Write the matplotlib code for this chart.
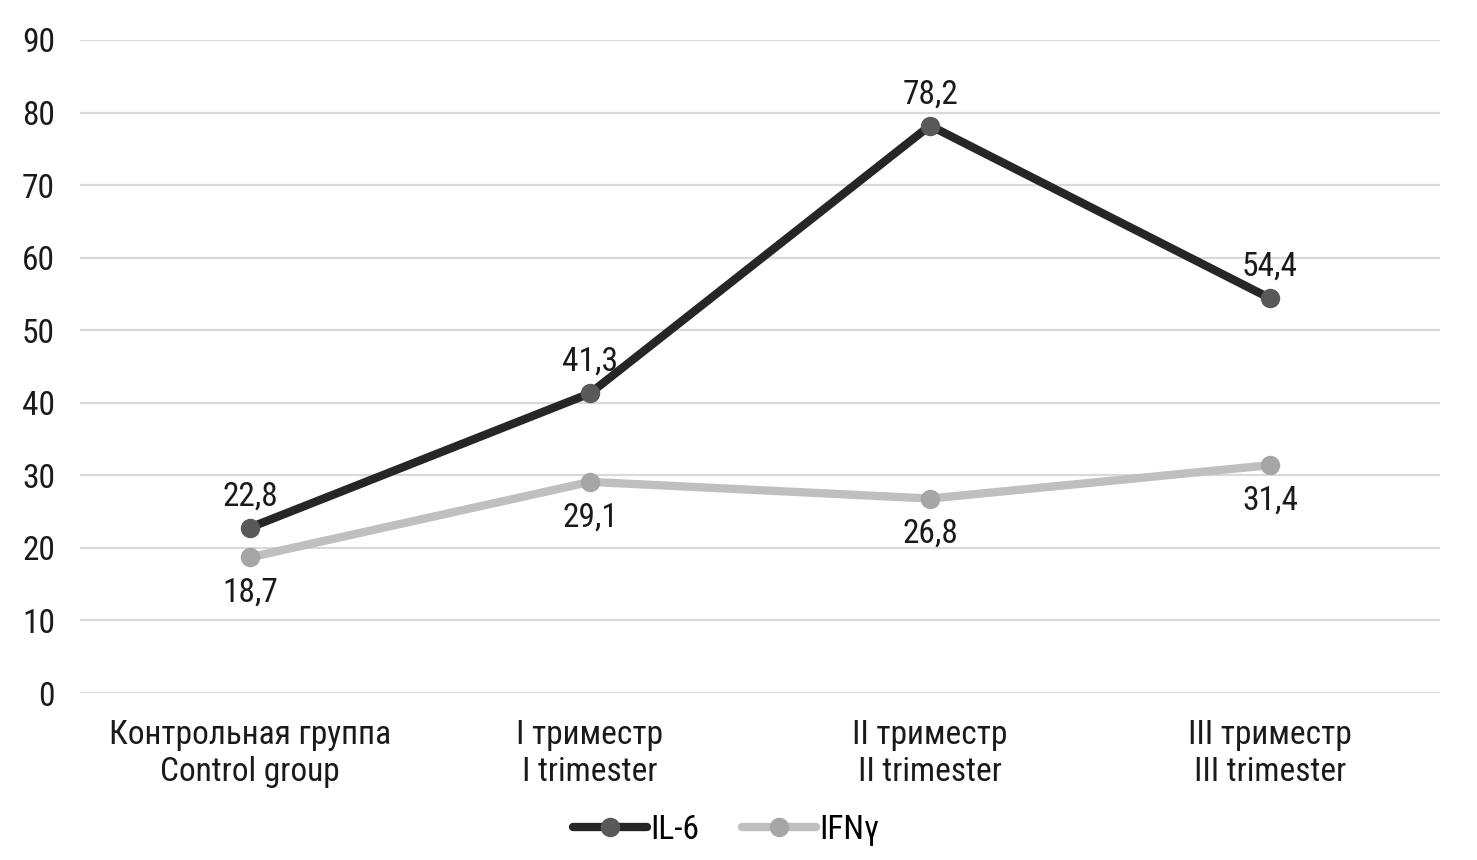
import matplotlib
matplotlib.use("Agg")
import matplotlib.pyplot as plt

plt.rcParams['font.family'] = ['Roboto Condensed', 'DejaVu Sans']

categories = ["Контрольная группа\nControl group", "I триместр\nI trimester",
              "II триместр\nII trimester", "III триместр\nIII trimester"]
il6 = [22.8, 41.3, 78.2, 54.4]
ifng = [18.7, 29.1, 26.8, 31.4]
yticks = [0, 10, 20, 30, 40, 50, 60, 70, 80, 90]

fig = plt.figure(figsize=(14.77, 8.6), dpi=100)
ax = fig.add_axes([80 / 1477, 1 - 693 / 860, 1360 / 1477, 653 / 860])

x = list(range(len(categories)))
ax.plot(x, il6, color="#262626", lw=6, marker="o", ms=13,
        mfc="#595959", mec="#595959", label="IL-6", solid_capstyle="round", zorder=4)
ax.plot(x, ifng, color="#bfbfbf", lw=6, marker="o", ms=13,
        mfc="#a6a6a6", mec="#a6a6a6", label="IFNγ", solid_capstyle="round", zorder=3)

# подписи значений: IL-6 сверху, IFNγ снизу
for xi, v in zip(x, il6):
    ax.annotate(f"{v:.1f}".replace(".", ","), (xi, v), xytext=(0, 11),
                textcoords="offset points", ha="center", va="bottom", fontsize=24, color="#1a1a1a")
for xi, v in zip(x, ifng):
    ax.annotate(f"{v:.1f}".replace(".", ","), (xi, v), xytext=(0, -14),
                textcoords="offset points", ha="center", va="top", fontsize=24, color="#1a1a1a")

ax.set_xlim(-0.5, 3.5)
ax.set_ylim(0, 90)
ax.set_yticks(yticks)
ax.set_xticks(x)
ax.set_xticklabels(categories, fontsize=24, color="#1a1a1a", linespacing=1.2)
ax.tick_params(axis="y", labelsize=24, colors="#1a1a1a", length=0, pad=18)
ax.tick_params(axis="x", length=0, pad=19)
ax.grid(axis="y", color="#d9d9d9", lw=1.6)
ax.set_axisbelow(True)
for s in ax.spines.values():
    s.set_visible(False)

ax.legend(loc="center", bbox_to_anchor=(0.475, -0.21), ncol=2, frameon=False,
          fontsize=24, handlelength=2.2, columnspacing=1.3, handletextpad=0.1)

fig.savefig("out.png", dpi=100)
